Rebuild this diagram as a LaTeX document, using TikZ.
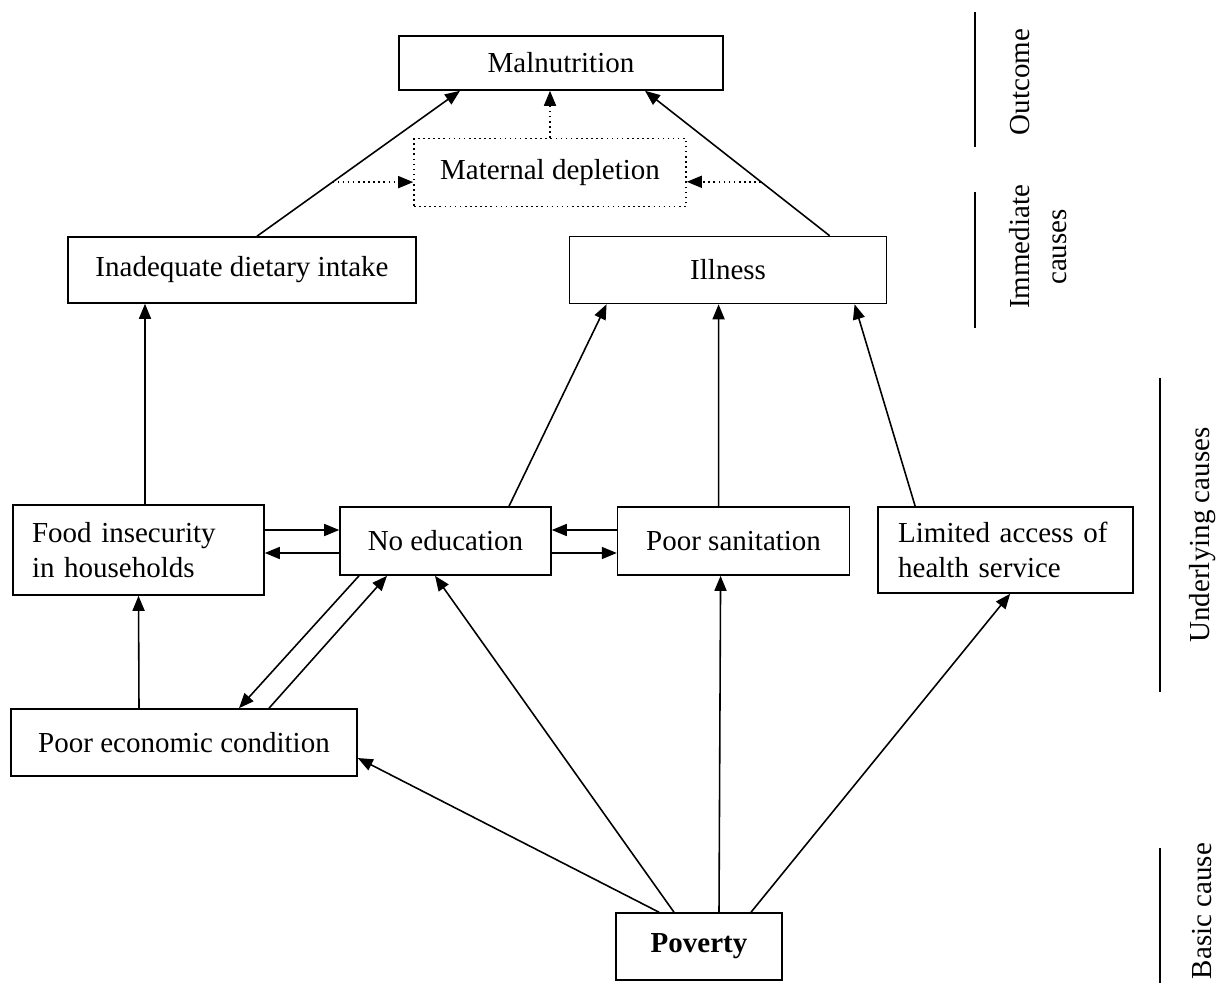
\documentclass[tikz,border=0pt]{standalone}
\usepackage{fontspec}
\setmainfont{Liberation Serif}
\usetikzlibrary{arrows.meta,positioning,calc}

\begin{document}
\begin{tikzpicture}[
    box/.style={draw, line width=0.9pt, minimum height=1.34cm, align=center, inner sep=0.2cm, font=\fontsize{16.5}{19.5}\selectfont},
    dbox/.style={box, dotted},
    arr/.style={-{Triangle[length=0.3cm,width=0.24cm]}, line width=0.9pt},
    darr/.style={arr, dotted},
    lvl/.style={rotate=90, align=center, font=\fontsize{16.5}{21}\selectfont},
    bar/.style={line width=0.9pt}
]
\useasboundingbox (0,0) rectangle (24.54,-19.66);

% --- Outcome and immediate causes ---
\node[box, minimum width=6.48cm, minimum height=1.08cm] (maln) at (11.22,-1.26) {Malnutrition};
\node[dbox, below=0.94cm of maln, xshift=-0.22cm, minimum width=5.44cm, minimum height=1.36cm] (matd) {Maternal depletion};
\node[box, minimum width=6.96cm, minimum height=1.32cm] (inad) at (4.84,-5.40) {Inadequate dietary intake};
\node[box, right=3.04cm of inad, minimum width=6.34cm] (ill) {Illness};

% --- Underlying causes ---
\node[box, text width=4.26cm, align=left, inner xsep=0.38cm, minimum height=1.8cm] (food) at (2.77,-11.0) {Food insecurity\\in households};
\node[box, minimum width=4.22cm, minimum height=1.36cm] (noedu) at (8.91,-10.82) {No education};
\node[box, right=1.3cm of noedu, minimum width=4.64cm, minimum height=1.36cm] (sanit) {Poor sanitation};
\node[box, right=0.54cm of sanit.north east, anchor=north west, text width=4.3cm, align=left, inner xsep=0.4cm, minimum height=1.72cm] (limacc) {Limited access of\\health service};
\node[box, minimum width=6.92cm] (econ) at (3.68,-14.85) {Poor economic condition};

% --- Basic cause ---
\node[box, minimum width=3.32cm, font=\fontsize{16.5}{19.5}\selectfont\bfseries] (pov) at (13.98,-18.93) {Poverty};

% --- Level labels ---
\node[lvl] (lout) at (20.4,-1.64) {Outcome};
\node[lvl] (limm) at (20.76,-4.94) {Immediate\\causes};
\node[lvl] (lund) at (24.05,-10.7) {Underlying causes};
\node[lvl] (lbas) at (24.05,-18.22) {Basic cause};
\draw[bar] (19.5,-0.24) -- (19.5,-2.94);
\draw[bar] (19.5,-3.84) -- (19.5,-6.56);
\draw[bar] (23.2,-7.56) -- (23.2,-13.84);
\draw[bar] (23.2,-16.96) -- (23.2,-19.66);

% immediate -> outcome
\draw[arr] ([xshift=0.3cm]inad.north) -- ([xshift=-2.02cm]maln.south);
\draw[arr] ([xshift=2.03cm]ill.north) -- ([xshift=1.68cm]maln.south);
\draw[darr] (matd.north) -- (matd.north |- maln.south);
\coordinate (dl) at ($([xshift=0.3cm]inad.north)!0.372!([xshift=-2.02cm]maln.south)$);
\coordinate (dr) at ($([xshift=2.03cm]ill.north)!0.372!([xshift=1.68cm]maln.south)$);
\draw[darr] (dl) -- (dl -| matd.west);
\draw[darr] (dr) -- (dr -| matd.east);

% underlying -> immediate
\draw[arr] ([xshift=0.13cm]food.north) -- ([xshift=-1.94cm]inad.south);
\draw[arr] ([xshift=1.27cm]noedu.north) -- ([xshift=-2.43cm]ill.south);
\draw[arr] ([xshift=-0.3cm]sanit.north) -- ([xshift=-0.19cm]ill.south);
\draw[arr] ([xshift=-1.81cm]limacc.north) -- ([xshift=2.53cm]ill.south);

% among underlying
\draw[arr] ([yshift=0.4cm]food.east) -- ([yshift=0.22cm]noedu.west);
\draw[arr] ([yshift=-0.24cm]noedu.west) -- ([yshift=-0.06cm]food.east);
\draw[arr] ([yshift=0.22cm]sanit.west) -- ([yshift=0.22cm]noedu.east);
\draw[arr] ([yshift=-0.24cm]noedu.east) -- ([yshift=-0.24cm]sanit.west);
\draw[arr] ([xshift=-1.73cm]noedu.south) -- ([xshift=1.1cm]econ.north);
\draw[arr] ([xshift=1.7cm]econ.north) -- ([xshift=-1.17cm]noedu.south);
\draw[arr] ([xshift=-0.9cm]econ.north) -- (food.south);

% basic -> underlying
\draw[arr] ([xshift=-0.8cm]pov.north) -- ([yshift=-0.31cm]econ.east);
\draw[arr] ([xshift=-0.5cm]pov.north) -- ([xshift=-0.21cm]noedu.south);
\draw[arr] ([xshift=0.4cm]pov.north) -- ([xshift=-0.26cm]sanit.south);
\draw[arr] ([xshift=1.04cm]pov.north) -- ([xshift=0.09cm]limacc.south);
\end{tikzpicture}
\end{document}
